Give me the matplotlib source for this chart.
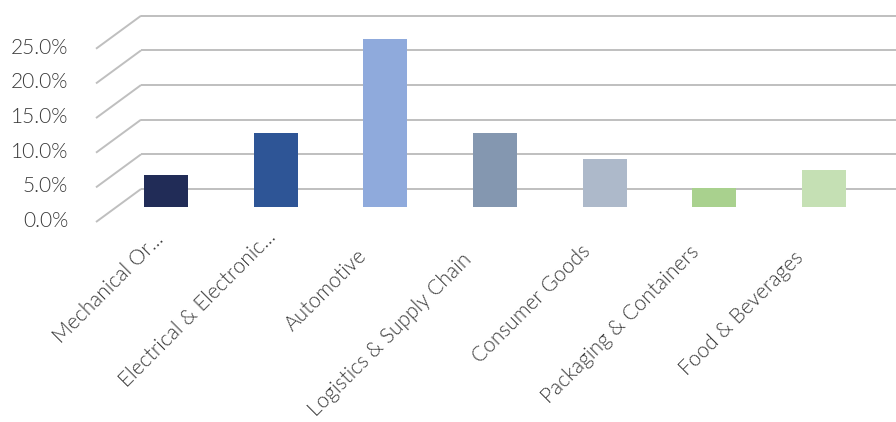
import matplotlib
matplotlib.use("Agg")
import matplotlib.pyplot as plt
from matplotlib import transforms as mtrans

categories = ["Mechanical Or...", "Electrical & Electronic...", "Automotive",
              "Logistics & Supply Chain", "Consumer Goods", "Packaging & Containers",
              "Food & Beverages"]
values = [4.6, 10.7, 24.2, 10.7, 6.9, 2.7, 5.3]
colors = ["#212C57", "#2E5596", "#8FAADC", "#8497B0", "#ADB9CA", "#A9D18E", "#C5E0B4"]
yticks = [0, 5, 10, 15, 20, 25]
ytick_labels = ["0.0%", "5.0%", "10.0%", "15.0%", "20.0%", "25.0%"]

# layout: horizontal nudge (px) of each category label's end point from its bar centre
label_nudge = [-1, 1, -18, -22, -13, -14, -20]

plt.rcParams['font.family'] = ['Lato', 'DejaVu Sans']
TXT = "#3A3A3A"
GRID = "#BFBFBF"
FS = 15.0

W, H = 896, 422
fig = plt.figure(figsize=(W / 100, H / 100), dpi=100)
ax = fig.add_axes([96 / W, 1 - 230 / H, 800 / W, 230 / H])
ax.set_xlim(-0.638, 6.656)
ax.set_ylim(-23 / 6.93, 207 / 6.93)

ax.bar(range(len(values)), values, width=0.4, color=colors, zorder=3)

blend = mtrans.blended_transform_factory(ax.transAxes, ax.transData)
def off(dx, dy, base=blend):
    return base + mtrans.ScaledTranslation(dx / 100, dy / 100, fig.dpi_scale_trans)

depth_x = 45
front_dy = -15
back_dy = 18
for v, lab in zip(yticks, ytick_labels):
    ax.plot([0, 1], [v, v], transform=off(depth_x, back_dy), color=GRID, lw=1.4,
            zorder=1, clip_on=False, solid_capstyle='butt')
    p0 = off(0, front_dy).transform((0, v))
    p1 = off(depth_x, back_dy).transform((0, v))
    ax.plot([p0[0], p1[0]], [p0[1], p1[1]], transform=None, color=GRID, lw=1.4,
            zorder=1, clip_on=False, solid_capstyle='butt')
    ax.text(0, v, lab, transform=off(-28, front_dy + 1), ha='right', va='center',
            fontsize=FS, color=TXT, fontweight=300)

xblend = mtrans.blended_transform_factory(ax.transData, ax.transAxes)
for i, (cat, nd) in enumerate(zip(categories, label_nudge)):
    # baseline end lies on the 45-degree line through (centre, 239 px below fig top)
    dy_screen = (239 - nd) - 230
    ax.text(i, 0, cat, transform=off(nd, -dy_screen, xblend), rotation=45,
            rotation_mode='anchor', ha='right', va='baseline',
            fontsize=FS, color=TXT, fontweight=300)

ax.set_xticks([])
ax.set_yticks([])
for s in ax.spines.values():
    s.set_visible(False)
ax.patch.set_visible(False)

fig.savefig("out.png", dpi=100)
